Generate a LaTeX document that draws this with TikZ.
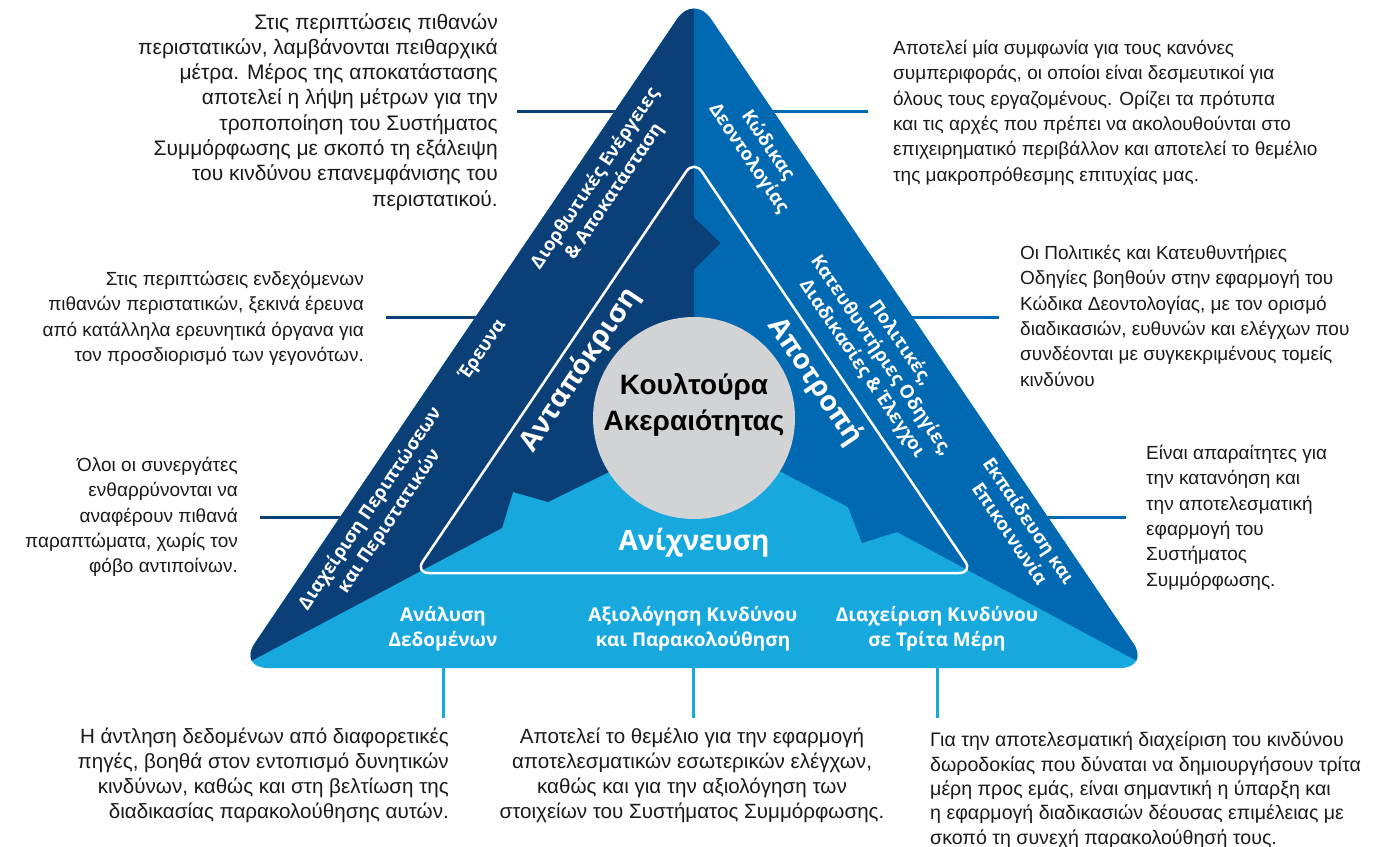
\documentclass[tikz,border=0pt]{standalone}
\usepackage{fontspec}
\setmainfont{Liberation Sans}
\newfontfamily\labelfont{Open Sans}
\usetikzlibrary{positioning}
\definecolor{navyblue}{HTML}{0A3F78}
\definecolor{midblue}{HTML}{0069B1}
\definecolor{skyblue}{HTML}{17A9DD}
\definecolor{circlegray}{HTML}{D1D3D4}
\definecolor{bodytext}{HTML}{1A1A1A}
\tikzset{
    %Define style for the description texts
    desctext/.style={
             font=\fontsize{19}{25.3}\selectfont,
             text=bodytext, inner sep=0pt},
    %Larger description texts (top left and bottom)
    desclarge/.style={
             desctext,
             font=\fontsize{20.6}{24.8}\selectfont},
    %Define style for the labels on the triangle
    pillarlabel/.style={
             font=\labelfont\bfseries\fontsize{18.5}{23}\selectfont,
             text=white, align=center, inner sep=0pt},
    %Labels on the bottom band
    baselabel/.style={
             pillarlabel,
             font=\labelfont\bfseries\fontsize{19}{25}\selectfont},
    %Define style for the three big labels
    biglabel/.style={
             font=\labelfont\bfseries\fontsize{28}{30}\selectfont,
             text=white, inner sep=0pt},
    % Define leader line style
    leader/.style={
            line width=3pt}
}

\begin{document}
\begin{tikzpicture}[x=1pt, y=-1pt]
 \useasboundingbox (0,0) rectangle (1384,846);
 % corners of the triangles
 \coordinate (top) at (694,-6);
 \coordinate (bl) at (238,668);
 \coordinate (br) at (1150,668);
 \coordinate (itop) at (694,160);
 \coordinate (ibl) at (415,573);
 \coordinate (ibr) at (973,573);
 % ends of the leader lines
 \coordinate (l1a) at (517,111); \coordinate (l1b) at (624,111);
 \coordinate (r1a) at (764,111); \coordinate (r1b) at (868,111);
 \coordinate (l2a) at (386,317); \coordinate (l2b) at (485,317);
 \coordinate (r2a) at (903,317); \coordinate (r2b) at (999,317);
 \coordinate (l3a) at (260,517); \coordinate (l3b) at (350,517);
 \coordinate (r3a) at (1038,517); \coordinate (r3b) at (1126,517);
 \coordinate (b1a) at (443,660); \coordinate[below=58pt of b1a] (b1b);
 \coordinate (b2a) at (693,660); \coordinate[below=58pt of b2a] (b2b);
 \coordinate (b3a) at (937,660); \coordinate[below=58pt of b3a] (b3b);
 \draw[leader, navyblue] (l1a) -- (l1b);
 \draw[leader, navyblue] (l2a) -- (l2b);
 \draw[leader, navyblue] (l3a) -- (l3b);
 \draw[leader, midblue] (r1a) -- (r1b);
 \draw[leader, midblue] (r2a) -- (r2b);
 \draw[leader, midblue] (r3a) -- (r3b);
 \draw[leader, skyblue] (b1a) -- (b1b);
 \draw[leader, skyblue] (b2a) -- (b2b);
 \draw[leader, skyblue] (b3a) -- (b3b);
 % the three parts of the triangle
 \fill[skyblue, rounded corners=30pt] (top) -- (br) -- (bl) -- cycle;
 \begin{scope}
  \clip[rounded corners=30pt] (top) -- (br) -- (bl) -- cycle;
  \fill[navyblue] (694,-50) -- (694,217) -- (721,243) -- (694,270) -- (694,418)
        -- (607,473) -- (548,502) -- (513,492) -- (502,528) -- (bl)
        -- (150,720) -- (150,-50) -- cycle;
  \fill[midblue] (694,-50) -- (694,217) -- (721,243) -- (694,270) -- (694,418)
        -- (783,473) -- (848,507) -- (862,543) -- (897,532) -- (br)
        -- (1250,720) -- (1250,-50) -- cycle;
 \end{scope}
 \node[circle, fill=circlegray, minimum size=202pt, inner sep=0pt] (culture) at (694,418) {};
 \draw[white, line width=2.5pt, rounded corners=14pt] (itop) -- (ibr) -- (ibl) -- cycle;
 % texts in the triangle
 \node[align=center, inner sep=0pt, text=black,
       font=\bfseries\fontsize{28}{36}\selectfont] (culturetext) at (694,405)
       {Κουλτούρα\\Ακεραιότητας};
 \node[biglabel, rotate=56] (response) at (580,370) {Ανταπόκριση};
 \node[biglabel, rotate=-56] (deterrence) at (815,382) {Αποτροπή};
 \node[biglabel] (detection) at (694,543) {Ανίχνευση};
 \node[pillarlabel, rotate=56] (corrective) at (605,185) {Διορθωτικές Ενέργειες\\\& Αποκατάσταση};
 \node[pillarlabel, rotate=56] (research) at (483,350) {Έρευνα};
 \node[pillarlabel, rotate=56] (incidents) at (380,515) {Διαχείριση Περιπτώσεων\\και Περιστατικών};
 \node[pillarlabel, rotate=-56] (code) at (758,152) {Κώδικας\\Δεοντολογίας};
 \node[pillarlabel, rotate=-56] (policies) at (881,356) {Πολιτικές,\\Κατευθυντήριες Οδηγίες,\\Διαδικασίες \& Έλεγχοι};
 \node[pillarlabel, rotate=-56] (training) at (1020,527) {Εκπαίδευση και\\Επικοινωνία};
 \node[baselabel] (data) at (443,629) {Ανάλυση\\Δεδομένων};
 \node[baselabel] (riskassess) at (693,629) {Αξιολόγηση Κινδύνου\\και Παρακολούθηση};
 \node[baselabel] (thirdparty) at (937,629) {Διαχείριση Κινδύνου\\σε Τρίτα Μέρη};
 % description texts
 \node[desclarge, font=\fontsize{21}{25.3}\selectfont, align=right, anchor=north east] (desccorrective) at (498,13)
   {Στις περιπτώσεις πιθανών\\περιστατικών, λαμβάνονται πειθαρχικά\\μέτρα. Μέρος της αποκατάστασης\\αποτελεί η λήψη μέτρων για την\\τροποποίηση του Συστήματος\\Συμμόρφωσης με σκοπό τη εξάλειψη\\του κινδύνου επανεμφάνισης του\\περιστατικού.};
 \node[desctext, align=right, anchor=north east] (descresearch) at (364,271)
   {Στις περιπτώσεις ενδεχόμενων\\πιθανών περιστατικών, ξεκινά έρευνα\\από κατάλληλα ερευνητικά όργανα για\\τον προσδιορισμό των γεγονότων.};
 \node[desctext, align=right, anchor=north east] (descincidents) at (238,457)
   {Όλοι οι συνεργάτες\\ενθαρρύνονται να\\αναφέρουν πιθανά\\παραπτώματα, χωρίς τον\\φόβο αντιποίνων.};
 \node[desctext, align=left, anchor=north west] (desccode) at (893,40)
   {Αποτελεί μία συμφωνία για τους κανόνες\\συμπεριφοράς, οι οποίοι είναι δεσμευτικοί για\\όλους τους εργαζομένους. Ορίζει τα πρότυπα\\και τις αρχές που πρέπει να ακολουθούνται στο\\επιχειρηματικό περιβάλλον και αποτελεί το θεμέλιο\\της μακροπρόθεσμης επιτυχίας μας.};
 \node[desctext, align=left, anchor=north west] (descpolicies) at (1020,245)
   {Οι Πολιτικές και Κατευθυντήριες\\Οδηγίες βοηθούν στην εφαρμογή του\\Κώδικα Δεοντολογίας, με τον ορισμό\\διαδικασιών, ευθυνών και ελέγχων που\\συνδέονται με συγκεκριμένους τομείς\\κινδύνου};
 \node[desctext, align=left, anchor=north west] (desctraining) at (1146,445)
   {Είναι απαραίτητες για\\την κατανόηση και\\την αποτελεσματική\\εφαρμογή του\\Συστήματος\\Συμμόρφωσης.};
 \node[desclarge, align=right, anchor=north east] (descdata) at (449,728)
   {Η άντληση δεδομένων από διαφορετικές\\πηγές, βοηθά στον εντοπισμό δυνητικών\\κινδύνων, καθώς και στη βελτίωση της\\διαδικασίας παρακολούθησης αυτών.};
 \node[desclarge, align=center, anchor=north] (descriskassess) at (692,728)
   {Αποτελεί το θεμέλιο για την εφαρμογή\\αποτελεσματικών εσωτερικών ελέγχων,\\καθώς και για την αξιολόγηση των\\στοιχείων του Συστήματος Συμμόρφωσης.};
 \node[desclarge, font=\fontsize{19.6}{24.3}\selectfont, align=left, anchor=north west] (descthirdparty) at (930,732)
   {Για την αποτελεσματική διαχείριση του κινδύνου\\δωροδοκίας που δύναται να δημιουργήσουν τρίτα\\μέρη προς εμάς, είναι σημαντική η ύπαρξη και\\η εφαρμογή διαδικασιών δέουσας επιμέλειας με\\σκοπό τη συνεχή παρακολούθησή τους.};
\end{tikzpicture}
\end{document}
